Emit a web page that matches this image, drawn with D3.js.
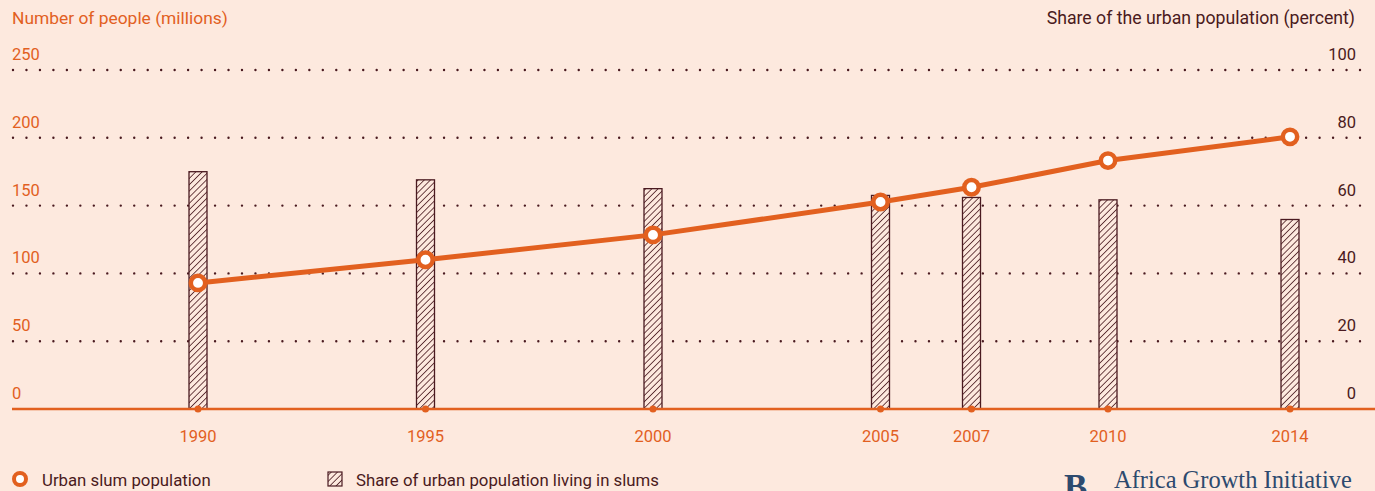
<!DOCTYPE html>
<html><head><meta charset="utf-8">
<script src="https://cdn.jsdelivr.net/npm/d3@7"></script>
<style>
html,body{margin:0;padding:0;background:#fde9de;overflow:hidden;}
svg{display:block;}
</style></head>
<body>
<svg id="chart" width="1375" height="491" font-family="Roboto, 'DejaVu Sans', sans-serif"></svg>
<script>
const years = [1990, 1995, 2000, 2005, 2007, 2010, 2014];
const slumPopulation = [93.0, 110.1, 128.4, 152.6, 163.5, 183.2, 200.7];
const slumShare = [70.0, 67.6, 65.0, 63.0, 62.4, 61.7, 55.9];
const leftTicks = [0, 50, 100, 150, 200, 250];
const rightTicks = [0, 20, 40, 60, 80, 100];
const leftTitle = "Number of people (millions)";
const rightTitle = "Share of the urban population (percent)";
const legendLine = "Urban slum population";
const legendBar = "Share of urban population living in slums";
const sourceText = "Africa Growth Initiative";

const W = 1375, H = 491;
const orange = "#e2601f", dark = "#4a1a20", bg = "#fde9de";
const svg = d3.select("#chart");
svg.append("rect").attr("width", W).attr("height", H).attr("fill", bg);

const x = d3.scaleLinear().domain([1990, 2014]).range([198, 1290]);
const yL = d3.scaleLinear().domain([0, 250]).range([409, 70]);
const yR = d3.scaleLinear().domain([0, 100]).range([409, 70]);

const defs = svg.append("defs");
const pat = defs.append("pattern").attr("id", "hatch").attr("patternUnits", "userSpaceOnUse")
  .attr("width", 4.4).attr("height", 4.4).attr("patternTransform", "rotate(45)");
pat.append("rect").attr("width", 4.4).attr("height", 4.4).attr("fill", bg);
pat.append("line").attr("x1", 0).attr("y1", 0).attr("x2", 0).attr("y2", 4.4)
  .attr("stroke", dark).attr("stroke-width", 1.6);

// titles
svg.append("text").attr("x", 12).attr("y", 24).attr("fill", orange).attr("font-size", 17.4).text(leftTitle);
svg.append("text").attr("x", 1355).attr("y", 24).attr("text-anchor", "end").attr("fill", dark).attr("font-size", 17.7).text(rightTitle);

// gridlines
svg.append("g").selectAll("line").data(leftTicks.filter(d => d > 0)).join("line")
  .attr("x1", 13).attr("x2", 1362).attr("y1", d => yL(d)).attr("y2", d => yL(d))
  .attr("stroke", dark).attr("stroke-width", 2.4).attr("stroke-linecap", "round")
  .attr("stroke-dasharray", "0 13.47");

// left tick labels
svg.append("g").selectAll("text").data(leftTicks).join("text")
  .attr("x", 12).attr("y", d => yL(d) - 10).attr("fill", orange).attr("font-size", 16.5).text(d => d);
// right tick labels
svg.append("g").selectAll("text").data(rightTicks).join("text")
  .attr("x", 1356).attr("y", d => yR(d) - 10).attr("text-anchor", "end").attr("fill", dark).attr("font-size", 16.5).text(d => d);

// bars
const bw = 18;
svg.append("g").selectAll("rect").data(years).join("rect")
  .attr("x", d => x(d) - bw / 2).attr("width", bw)
  .attr("y", (d, i) => yR(slumShare[i])).attr("height", (d, i) => yR(0) - yR(slumShare[i]))
  .attr("fill", "url(#hatch)").attr("stroke", dark).attr("stroke-width", 1.3);

// baseline
svg.append("line").attr("x1", 12).attr("x2", W).attr("y1", yL(0)).attr("y2", yL(0))
  .attr("stroke", orange).attr("stroke-width", 2.5);
svg.append("g").selectAll("circle").data(years).join("circle")
  .attr("cx", d => x(d)).attr("cy", yL(0)).attr("r", 3.5).attr("fill", orange);

// x labels
svg.append("g").selectAll("text").data(years).join("text")
  .attr("x", d => x(d)).attr("y", 442).attr("text-anchor", "middle").attr("fill", orange).attr("font-size", 16.5).text(d => d);

// line
const pts = years.map((d, i) => [x(d), yL(slumPopulation[i])]);
svg.append("path").attr("d", d3.line()(pts)).attr("fill", "none").attr("stroke", orange).attr("stroke-width", 5);
svg.append("g").selectAll("circle").data(pts).join("circle")
  .attr("cx", d => d[0]).attr("cy", d => d[1]).attr("r", 7.2)
  .attr("fill", "#fff").attr("stroke", orange).attr("stroke-width", 4.5);

// legend
svg.append("circle").attr("cx", 20).attr("cy", 479).attr("r", 6).attr("fill", "#fff").attr("stroke", orange).attr("stroke-width", 4);
svg.append("text").attr("x", 42).attr("y", 486).attr("fill", dark).attr("font-size", 16.8).text(legendLine);
svg.append("rect").attr("x", 328).attr("y", 472).attr("width", 14).attr("height", 14).attr("fill", "url(#hatch)").attr("stroke", dark).attr("stroke-width", 1.2);
svg.append("text").attr("x", 356).attr("y", 486).attr("fill", dark).attr("font-size", 16.8).text(legendBar);

// logo
const serif = "'Liberation Serif', 'DejaVu Serif', serif";
svg.append("text").attr("x", 1064).attr("y", 499).attr("fill", "#2d4a6e").attr("font-family", serif).attr("font-weight", "bold").attr("font-size", 35).text("B");
const src = svg.append("text").attr("x", 1114).attr("y", 488).attr("fill", "#2d4a6e").attr("font-family", serif).attr("font-size", 23).text(sourceText);
const wNow = src.node().getComputedTextLength();
src.attr("font-size", 23 * 238 / wNow);
</script>
</body></html>
